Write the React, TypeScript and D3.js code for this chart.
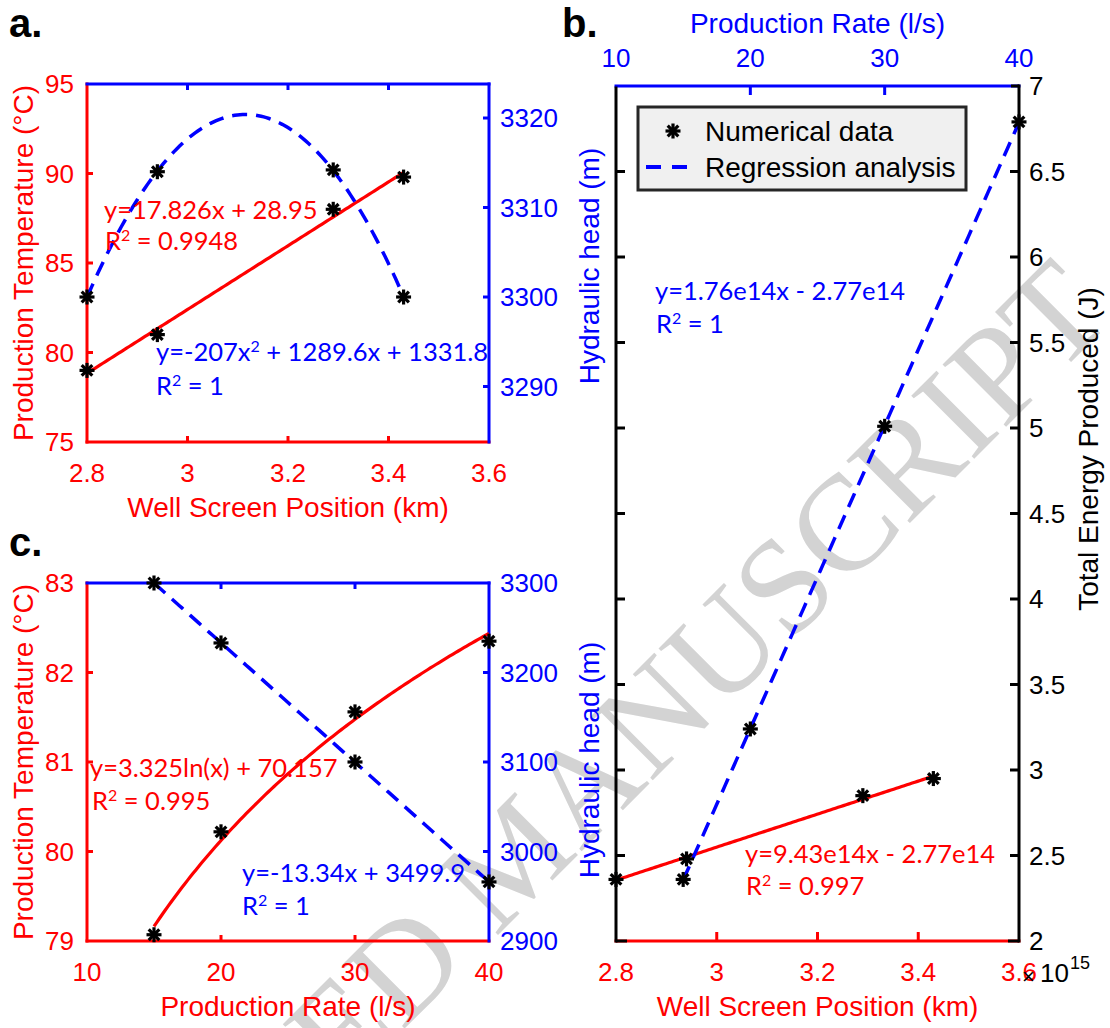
import React from 'react';
import * as d3 from 'd3';

// ---------- Panel a data ----------
const wellPosA = [2.8, 2.94, 3.29, 3.43];
const tempA = [79.0, 81.0, 88.0, 89.8];
const headA = [3300, 3314.0, 3314.2, 3300];
const xTicksA = [2.8, 3, 3.2, 3.4, 3.6];
const tempTicksA = [75, 80, 85, 90, 95];
const headTicksA = [3290, 3300, 3310, 3320];

// ---------- Panel b data ----------
const rateB = [15, 20, 30, 40];
const energyRateB = [2.36, 3.24, 5.01, 6.79];
const wellPosB = [2.8, 2.94, 3.29, 3.43];
const energyWellB = [2.36, 2.48, 2.85, 2.95];
const rateTicksB = [10, 20, 30, 40];
const wellTicksB = [2.8, 3, 3.2, 3.4, 3.6];
const energyTicksB = [2, 2.5, 3, 3.5, 4, 4.5, 5, 5.5, 6, 6.5, 7];

// ---------- Panel c data ----------
const rateC = [15, 20, 30, 40];
const tempC = [79.07, 80.22, 81.56, 82.35];
const headC = [3300, 3233, 3100, 2966];
const rateTicksC = [10, 20, 30, 40];
const tempTicksC = [79, 80, 81, 82, 83];
const headTicksC = [2900, 3000, 3100, 3200, 3300];

const RED = '#ff0000';
const BLUE = '#0000ff';
const FONT = "'Liberation Sans', Arial, Helvetica, sans-serif";
const EQFONT = "Lato, 'Open Sans', sans-serif";
const TICK_FS = 26;
const LABEL_FS = 28;
const EQ_FS = 25.5;

// least squares helpers
function linFit(xs: number[], ys: number[]) {
  const mx = d3.mean(xs)!, my = d3.mean(ys)!;
  let sxy = 0, sxx = 0;
  xs.forEach((x, i) => { sxy += (x - mx) * (ys[i] - my); sxx += (x - mx) * (x - mx); });
  const b = sxy / sxx;
  return (x: number) => my + b * (x - mx);
}
function quadFit(xs: number[], ys: number[]) {
  const mx = d3.mean(xs)!;
  const u = xs.map(x => x - mx);
  const S = (k: number) => d3.sum(u, v => Math.pow(v, k));
  const T = (k: number) => d3.sum(u.map((v, i) => Math.pow(v, k) * ys[i]));
  const A = [[S(0), S(1), S(2), T(0)], [S(1), S(2), S(3), T(1)], [S(2), S(3), S(4), T(2)]];
  for (let i = 0; i < 3; i++) {
    for (let j = i + 1; j < 3; j++) {
      const f = A[j][i] / A[i][i];
      for (let k = i; k < 4; k++) A[j][k] -= f * A[i][k];
    }
  }
  const c = [0, 0, 0];
  for (let i = 2; i >= 0; i--) {
    let s = A[i][3];
    for (let k = i + 1; k < 3; k++) s -= A[i][k] * c[k];
    c[i] = s / A[i][i];
  }
  return (x: number) => c[0] + c[1] * (x - mx) + c[2] * (x - mx) * (x - mx);
}
function logFit(xs: number[], ys: number[]) {
  const f = linFit(xs.map(Math.log), ys);
  return (x: number) => f(Math.log(x));
}
const samples = (lo: number, hi: number) => d3.range(0, 121).map(i => lo + (hi - lo) * i / 120);

const Star = ({ cx, cy }: { cx: number; cy: number }) => (
  <g transform={`translate(${cx},${cy})`} stroke="#000" strokeWidth={3.2}>
    {[0, 45, 90, 135].map(a => {
      const r = (a * Math.PI) / 180;
      return <line key={a} x1={-7.5 * Math.cos(r)} y1={-7.5 * Math.sin(r)} x2={7.5 * Math.cos(r)} y2={7.5 * Math.sin(r)} />;
    })}
    <circle r={3.5} fill="#000" stroke="none" />
  </g>
);

const R2 = ({ x, y, value, color }: { x: number; y: number; value: string; color: string }) => (
  <text x={x} y={y} fill={color} fontFamily={EQFONT} fontSize={EQ_FS}>
    R<tspan dy={-9} fontSize={16}>2</tspan><tspan dy={9}>{' = ' + value}</tspan>
  </text>
);

type Box = { x0: number; x1: number; y0: number; y1: number };

function DualPanel(props: {
  box: Box;
  xs: d3.ScaleLinear<number, number>;
  yl: d3.ScaleLinear<number, number>;
  yr: d3.ScaleLinear<number, number>;
  xTicks: number[]; ylTicks: number[]; yrTicks: number[];
  xLabel: string; ylLabel: string;
  tick: number;
}) {
  const { box, xs, yl, yr, xTicks, ylTicks, yrTicks, xLabel, ylLabel, tick } = props;
  return (
    <g>
      <line x1={box.x0} y1={box.y0} x2={box.x0} y2={box.y1} stroke={RED} strokeWidth={3} strokeLinecap="square" />
      <line x1={box.x0} y1={box.y1} x2={box.x1} y2={box.y1} stroke={RED} strokeWidth={3} strokeLinecap="square" />
      <line x1={box.x0} y1={box.y0} x2={box.x1} y2={box.y0} stroke={BLUE} strokeWidth={3} strokeLinecap="square" />
      <line x1={box.x1} y1={box.y0} x2={box.x1} y2={box.y1} stroke={BLUE} strokeWidth={3} strokeLinecap="square" />
      {xTicks.slice(1, -1).map(t => (
        <g key={'xt' + t}>
          <line x1={xs(t)} x2={xs(t)} y1={box.y1} y2={box.y1 - tick} stroke={RED} strokeWidth={3} />
          <line x1={xs(t)} x2={xs(t)} y1={box.y0} y2={box.y0 + tick} stroke={BLUE} strokeWidth={3} />
        </g>
      ))}
      {ylTicks.filter(t => yl(t) > box.y0 + 1 && yl(t) < box.y1 - 1).map(t => (
        <line key={'yl' + t} x1={box.x0} x2={box.x0 + tick} y1={yl(t)} y2={yl(t)} stroke={RED} strokeWidth={3} />
      ))}
      {yrTicks.filter(t => yr(t) > box.y0 + 1 && yr(t) < box.y1 - 1).map(t => (
        <line key={'yr' + t} x1={box.x1} x2={box.x1 - tick} y1={yr(t)} y2={yr(t)} stroke={BLUE} strokeWidth={3} />
      ))}
      {xTicks.map(t => (
        <text key={'xl' + t} x={xs(t)} y={box.y1 + 40} textAnchor="middle" fill={RED} fontFamily={FONT} fontSize={TICK_FS}>{String(t)}</text>
      ))}
      {ylTicks.map(t => (
        <text key={'yll' + t} x={box.x0 - 13} y={yl(t)} dy="0.36em" textAnchor="end" fill={RED} fontFamily={FONT} fontSize={TICK_FS}>{String(t)}</text>
      ))}
      {yrTicks.map(t => (
        <text key={'yrl' + t} x={box.x1 + 11} y={yr(t)} dy="0.36em" textAnchor="start" fill={BLUE} fontFamily={FONT} fontSize={TICK_FS}>{String(t)}</text>
      ))}
      <text x={(box.x0 + box.x1) / 2} y={box.y1 + 75} textAnchor="middle" fill={RED} fontFamily={FONT} fontSize={LABEL_FS}>{xLabel}</text>
      <text transform={`translate(33,${(box.y0 + box.y1) / 2}) rotate(-90)`} textAnchor="middle" fill={RED} fontFamily={FONT} fontSize={LABEL_FS}>{ylLabel}</text>
    </g>
  );
}

export default function App() {
  // Panel a scales
  const A: Box = { x0: 87, x1: 489, y0: 84, y1: 442 };
  const xA = d3.scaleLinear([2.8, 3.6], [A.x0, A.x1]);
  const tA = d3.scaleLinear([75, 95], [A.y1, A.y0]);
  const hA = d3.scaleLinear([3283.8, 3323.8], [A.y1, A.y0]);
  // Panel c scales
  const C: Box = { x0: 87, x1: 489, y0: 583, y1: 941 };
  const xC = d3.scaleLinear([10, 40], [C.x0, C.x1]);
  const tC = d3.scaleLinear([79, 83], [C.y1, C.y0]);
  const hC = d3.scaleLinear([2900, 3300], [C.y1, C.y0]);
  // Panel b scales
  const B: Box = { x0: 616, x1: 1019, y0: 86, y1: 941 };
  const rB = d3.scaleLinear([10, 40], [B.x0, B.x1]);
  const wB = d3.scaleLinear([2.8, 3.6], [B.x0, B.x1]);
  const eB = d3.scaleLinear([2, 7], [B.y1, B.y0]);

  // fits
  const fTA = linFit(wellPosA, tempA);
  const fHA = quadFit(wellPosA, headA);
  const fTC = logFit(rateC, tempC);
  const fHC = linFit(rateC, headC);
  const fRB = linFit(rateB, energyRateB);
  const fWB = linFit(wellPosB, energyWellB);

  const mkLine = (sx: d3.ScaleLinear<number, number>, sy: d3.ScaleLinear<number, number>, f: (x: number) => number, lo: number, hi: number) =>
    d3.line<number>().x(x => sx(x)).y(x => sy(f(x)))(samples(lo, hi)) || '';

  const dash = '15 9';

  return (
    <svg width={1110} height={1028} viewBox="0 0 1110 1028" style={{ position: 'absolute', left: 0, top: 0, background: '#fff' }}>
      <rect x={0} y={0} width={1110} height={1028} fill="#fff" />
      {/* watermark */}
      <text transform="translate(1115,318) rotate(-45)" textAnchor="end" fontFamily="'Liberation Serif', 'Times New Roman', serif" fontSize={136} fill="#d3d3d3">ACCEPTED MANUSCRIPT</text>

      {/* panel labels */}
      <text x={9} y={37} fontFamily={FONT} fontWeight={700} fontSize={40} fill="#000">a.</text>
      <text x={562} y={37} fontFamily={FONT} fontWeight={700} fontSize={40} fill="#000">b.</text>
      <text x={9} y={556} fontFamily={FONT} fontWeight={700} fontSize={40} fill="#000">c.</text>

      {/* ---------- Panel a ---------- */}
      <DualPanel box={A} xs={xA} yl={tA} yr={hA} xTicks={xTicksA} ylTicks={tempTicksA} yrTicks={headTicksA}
        xLabel="Well Screen Position (km)" ylLabel="Production Temperature (°C)" tick={6} />
      <path d={mkLine(xA, tA, fTA, wellPosA[0], wellPosA[3])} fill="none" stroke={RED} strokeWidth={3.2} />
      <path d={mkLine(xA, hA, fHA, wellPosA[0], wellPosA[3])} fill="none" stroke={BLUE} strokeWidth={3.5} strokeDasharray={dash} />
      {wellPosA.map((x, i) => <Star key={'at' + i} cx={xA(x)} cy={tA(tempA[i])} />)}
      {wellPosA.map((x, i) => <Star key={'ah' + i} cx={xA(x)} cy={hA(headA[i])} />)}
      <text x={104} y={219} fill={RED} fontFamily={EQFONT} fontSize={EQ_FS}>y=17.826x + 28.95</text>
      <R2 x={105} y={250} value="0.9948" color={RED} />
      <text x={156} y={361} fill={BLUE} fontFamily={EQFONT} fontSize={EQ_FS}>
        y=-207x<tspan dy={-9} fontSize={16}>2</tspan><tspan dy={9}> + 1289.6x + 1331.8</tspan>
      </text>
      <R2 x={156} y={395} value="1" color={BLUE} />

      {/* ---------- Panel c ---------- */}
      <DualPanel box={C} xs={xC} yl={tC} yr={hC} xTicks={rateTicksC} ylTicks={tempTicksC} yrTicks={headTicksC}
        xLabel="Production Rate (l/s)" ylLabel="Production Temperature (°C)" tick={6} />
      <path d={mkLine(xC, tC, fTC, rateC[0], rateC[3])} fill="none" stroke={RED} strokeWidth={3.2} />
      <path d={mkLine(xC, hC, fHC, rateC[0], rateC[3])} fill="none" stroke={BLUE} strokeWidth={3.5} strokeDasharray={dash} />
      {rateC.map((x, i) => <Star key={'ct' + i} cx={xC(x)} cy={tC(tempC[i])} />)}
      {rateC.map((x, i) => <Star key={'ch' + i} cx={xC(x)} cy={hC(headC[i])} />)}
      <text x={90} y={777} fill={RED} fontFamily={EQFONT} fontSize={EQ_FS}>y=3.325ln(x) + 70.157</text>
      <R2 x={92} y={810} value="0.995" color={RED} />
      <text x={242} y={882} fill={BLUE} fontFamily={EQFONT} fontSize={EQ_FS}>y=-13.34x + 3499.9</text>
      <R2 x={242} y={915} value="1" color={BLUE} />

      {/* ---------- Panel b ---------- */}
      <g>
        <line x1={B.x0} y1={B.y0} x2={B.x1} y2={B.y0} stroke={BLUE} strokeWidth={3} strokeLinecap="square" />
        <line x1={B.x0} y1={B.y1} x2={B.x1} y2={B.y1} stroke={RED} strokeWidth={3} strokeLinecap="square" />
        <line x1={B.x0} y1={B.y0 + 2} x2={B.x0} y2={B.y1} stroke="#000" strokeWidth={3} strokeLinecap="square" />
        <line x1={B.x1} y1={B.y0} x2={B.x1} y2={B.y1} stroke="#000" strokeWidth={3} strokeLinecap="square" />
        <line x1={B.x0} y1={B.y1} x2={B.x0 + 11} y2={B.y1} stroke="#000" strokeWidth={3} />
        <line x1={B.x1 - 11} y1={B.y1} x2={B.x1} y2={B.y1} stroke="#000" strokeWidth={3} />
        <line x1={B.x1 - 8} y1={B.y0} x2={B.x1} y2={B.y0} stroke="#000" strokeWidth={3} />
        {rateTicksB.slice(1, -1).map(t => (
          <line key={'bt' + t} x1={rB(t)} x2={rB(t)} y1={B.y0} y2={B.y0 + 9} stroke={BLUE} strokeWidth={3} />
        ))}
        {wellTicksB.slice(1, -1).map(t => (
          <line key={'bb' + t} x1={wB(t)} x2={wB(t)} y1={B.y1} y2={B.y1 - 9} stroke={RED} strokeWidth={3} />
        ))}
        {energyTicksB.slice(1, -1).map(t => (
          <g key={'be' + t}>
            <line x1={B.x1} x2={B.x1 - 9} y1={eB(t)} y2={eB(t)} stroke="#000" strokeWidth={3} />
            <line x1={B.x0} x2={B.x0 + 9} y1={eB(t)} y2={eB(t)} stroke="#000" strokeWidth={3} />
          </g>
        ))}
        {rateTicksB.map(t => (
          <text key={'btl' + t} x={rB(t)} y={B.y0 - 19} textAnchor="middle" fill={BLUE} fontFamily={FONT} fontSize={TICK_FS}>{String(t)}</text>
        ))}
        {wellTicksB.map(t => (
          <text key={'bbl' + t} x={wB(t)} y={B.y1 + 40} textAnchor="middle" fill={RED} fontFamily={FONT} fontSize={TICK_FS}>{String(t)}</text>
        ))}
        {energyTicksB.map(t => (
          <text key={'bel' + t} x={B.x1 + 10} y={eB(t)} dy="0.36em" fill="#000" fontFamily={FONT} fontSize={TICK_FS}>{String(t)}</text>
        ))}
        <text x={1022} y={984} fill="#000" fontFamily={FONT} fontSize={22}>×</text>
        <text x={1040} y={982} fill="#000" fontFamily={FONT} fontSize={TICK_FS}>10</text>
        <text x={1070} y={969} fill="#000" fontFamily={FONT} fontSize={18}>15</text>
        <text x={(B.x0 + B.x1) / 2} y={33} textAnchor="middle" fill={BLUE} fontFamily={FONT} fontSize={LABEL_FS}>Production Rate (l/s)</text>
        <text x={(B.x0 + B.x1) / 2} y={1016} textAnchor="middle" fill={RED} fontFamily={FONT} fontSize={LABEL_FS}>Well Screen Position (km)</text>
        <text transform="translate(1098,449) rotate(-90)" textAnchor="middle" fill="#000" fontFamily={FONT} fontSize={LABEL_FS}>Total Energy Produced (J)</text>
        <text transform="translate(599,266) rotate(-90)" textAnchor="middle" fill={BLUE} fontFamily={FONT} fontSize={LABEL_FS}>Hydraulic head (m)</text>
        <text transform="translate(599,760) rotate(-90)" textAnchor="middle" fill={BLUE} fontFamily={FONT} fontSize={LABEL_FS}>Hydraulic head (m)</text>
      </g>
      <path d={mkLine(wB, eB, fWB, wellPosB[0], wellPosB[3])} fill="none" stroke={RED} strokeWidth={3.2} />
      <path d={mkLine(rB, eB, fRB, rateB[0], rateB[3])} fill="none" stroke={BLUE} strokeWidth={3.5} strokeDasharray={dash} />
      {wellPosB.map((x, i) => <Star key={'bw' + i} cx={wB(x)} cy={eB(energyWellB[i])} />)}
      {rateB.map((x, i) => <Star key={'br' + i} cx={rB(x)} cy={eB(energyRateB[i])} />)}
      <text x={655} y={300} fill={BLUE} fontFamily={EQFONT} fontSize={EQ_FS}>y=1.76e14x - 2.77e14</text>
      <R2 x={656} y={333} value="1" color={BLUE} />
      <text x={745} y={863} fill={RED} fontFamily={EQFONT} fontSize={EQ_FS}>y=9.43e14x - 2.77e14</text>
      <R2 x={746} y={895} value="0.997" color={RED} />

      {/* legend */}
      <rect x={638} y={107} width={328} height={83} fill="#f0f0f0" stroke="#262626" strokeWidth={3} />
      <Star cx={673} cy={131} />
      <line x1={646} x2={688} y1={167} y2={167} stroke={BLUE} strokeWidth={4} strokeDasharray="15 11" />
      <text x={705} y={141} fill="#000" fontFamily={FONT} fontSize={LABEL_FS}>Numerical data</text>
      <text x={705} y={177} fill="#000" fontFamily={FONT} fontSize={LABEL_FS}>Regression analysis</text>
    </svg>
  );
}
